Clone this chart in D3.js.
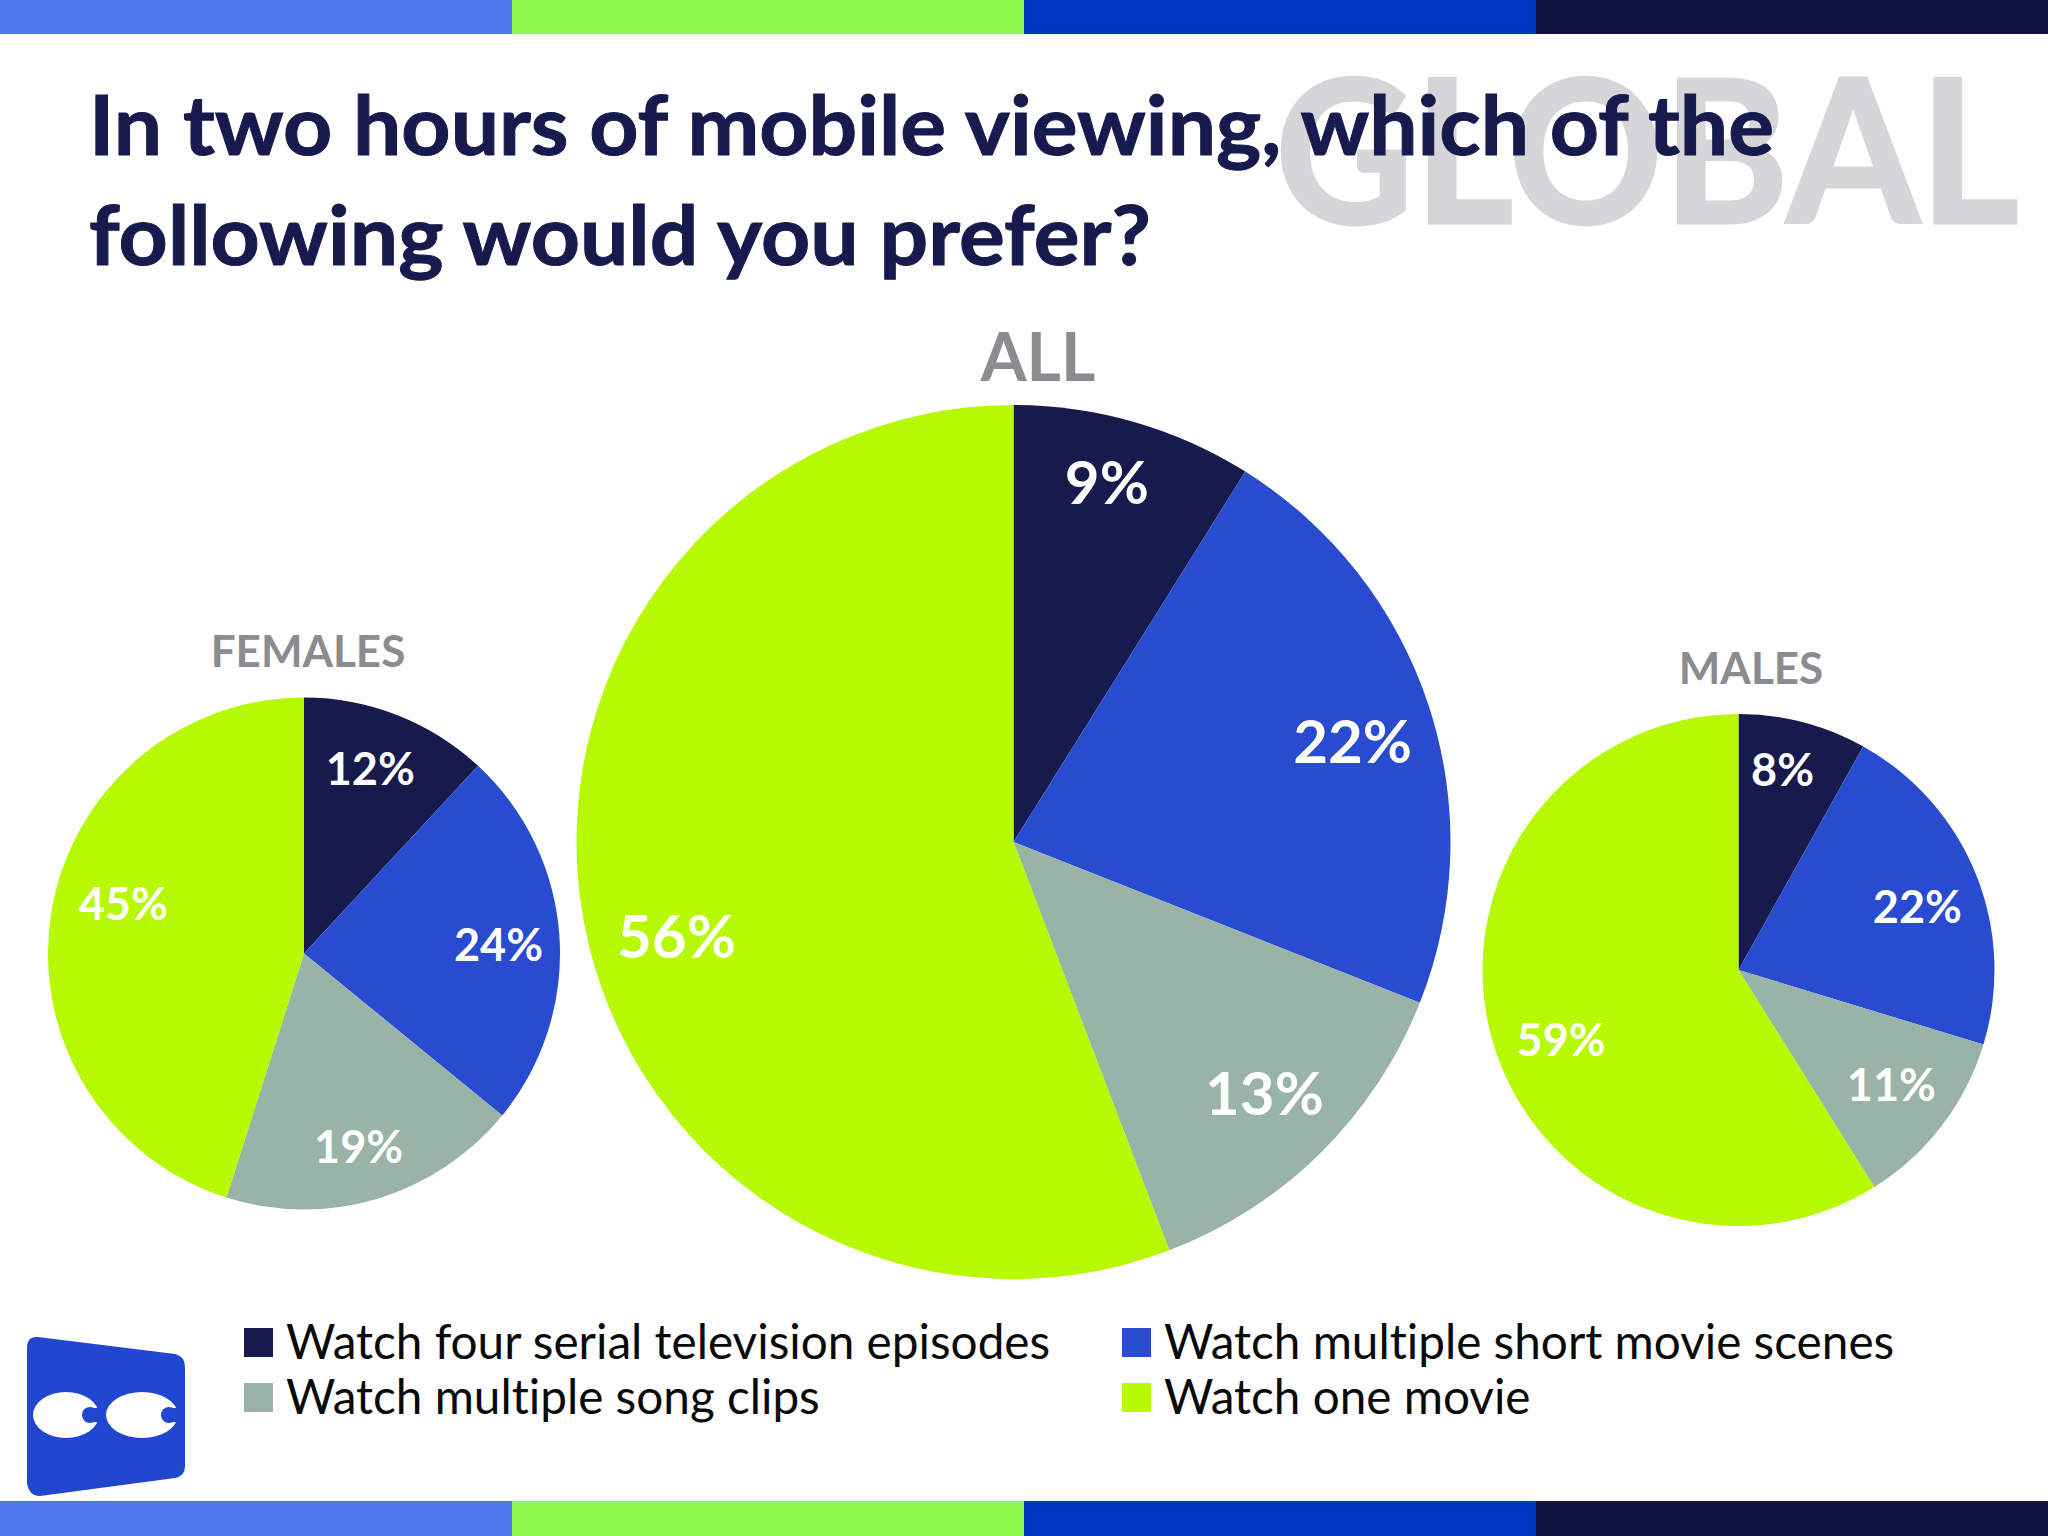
<!DOCTYPE html>
<html>
<head>
<meta charset="utf-8">
<style>
  html, body { margin: 0; padding: 0; background: #fff; }
  svg { display: block; }
  text { font-family: Lato, "Noto Sans", sans-serif; font-variant-ligatures: none; }
</style>
<script src="https://cdn.jsdelivr.net/npm/d3@7/dist/d3.min.js"></script>
</head>
<body>
<svg id="chart" width="2048" height="1536"></svg>
<script>
const categories = [
  "Watch four serial television episodes",
  "Watch multiple short movie scenes",
  "Watch multiple song clips",
  "Watch one movie"
];
// slice sizes, the labels round them
const allValues = [8.9, 22.1, 13.2, 55.8];
const femaleValues = [11.9, 24, 19, 45.1];
const maleValues = [8.1, 21.6, 11.4, 58.9];
const titleLines = [
  "In two hours of mobile viewing, which of the",
  "following would you prefer?"
];
const colors = ["#161a4c", "#284bd0", "#99b3a6", "#b6f900"];
const barColors = ["#4f78ee", "#8bf94d", "#0037c0", "#10123f"];

const svg = d3.select("#chart");
const navy = "#161a4c";
const grey = "#8b8b90";
const pct = d3.format(".0f");

// top and bottom strips
const barX = d3.scaleBand().domain(d3.range(4)).range([0, 2048]);
[[0, 34], [1501, 35]].forEach(([y, h]) => {
  svg.append("g").selectAll("rect").data(barColors).join("rect")
    .attr("x", (d, i) => barX(i))
    .attr("y", y)
    .attr("width", barX.bandwidth())
    .attr("height", h)
    .attr("fill", d => d);
});

// watermark goes under the title
svg.append("text")
  .attr("x", 1275).attr("y", 223)
  .attr("textLength", 744).attr("lengthAdjust", "spacingAndGlyphs")
  .attr("font-size", 200).attr("font-weight", 700)
  .attr("fill", "#d6d6d9")
  .attr("stroke", "#d6d6d9").attr("stroke-width", 3)
  .text("GLOBAL");

const titleWidths = [1685, 1062];
svg.append("g").selectAll("text").data(titleLines).join("text")
  .attr("x", 89)
  .attr("y", (d, i) => 155 + i * 110)
  .attr("textLength", (d, i) => titleWidths[i]).attr("lengthAdjust", "spacingAndGlyphs")
  .attr("font-size", 82).attr("font-weight", 700)
  .attr("fill", navy)
  .attr("stroke", navy).attr("stroke-width", 1)
  .text(d => d);

// one pie per group, labels nudged by hand off the centroid like the original slide
function drawPie(values, cx, cy, radius, labelRadius, fontSize, nudges, name, nameSize, nameX, nameY) {
  const g = svg.append("g").attr("transform", `translate(${cx},${cy})`);
  const pie = d3.pie().sort(null).value(d => d);
  const arc = d3.arc().innerRadius(0).outerRadius(radius);
  const labelArc = d3.arc().innerRadius(labelRadius).outerRadius(labelRadius);
  const arcs = pie(values);

  g.selectAll("path").data(arcs).join("path")
    .attr("d", arc)
    .attr("fill", (d, i) => colors[i]);

  g.selectAll("text").data(arcs).join("text")
    .attr("transform", (d, i) => {
      const c = labelArc.centroid(d);
      return `translate(${c[0] + nudges[i][0]},${c[1] + nudges[i][1]})`;
    })
    .attr("dy", "0.35em")
    .attr("text-anchor", "middle")
    .attr("font-size", fontSize).attr("font-weight", 700)
    .attr("fill", "#fff")
    .text(d => pct(d.data) + "%");

  svg.append("text")
    .attr("x", nameX).attr("y", nameY)
    .attr("text-anchor", "middle")
    .attr("font-size", nameSize).attr("font-weight", 700)
    .attr("fill", grey)
    .text(name);
}

drawPie(allValues, 1013.5, 842, 437, 360, 60,
  [[-6, -13], [-3, 12], [-2, -4], [17, 30]], "ALL", 66, 1038, 381);
drawPie(femaleValues, 304, 953.5, 256, 195, 45,
  [[-5, -3], [0, 5], [-1, 7], [12, -19]], "FEMALES", 44, 308, 667);
drawPie(maleValues, 1738.5, 970, 256, 195, 45,
  [[-5, -11], [-2, 10], [-2, -3], [10, 16]], "MALES", 44, 1751, 684);

// legend, two by two
const legendX = d3.scaleOrdinal().domain([0, 1]).range([244, 1122]);
const legendY = d3.scaleOrdinal().domain([0, 1]).range([1328, 1383]);
const legend = svg.append("g").selectAll("g").data(categories).join("g")
  .attr("transform", (d, i) => `translate(${legendX(i % 2)},${legendY(Math.floor(i / 2))})`);
legend.append("rect")
  .attr("width", 29).attr("height", 29)
  .attr("fill", (d, i) => colors[i]);
legend.append("text")
  .attr("x", 42).attr("y", 31)
  .attr("font-size", 47.7)
  .attr("fill", "#0a0a0a")
  .text(d => d);

// logo
const logoBlue = "#2146cf";
const logo = svg.append("g");
logo.append("path")
  .attr("d", "M38 1337 L175 1354 Q185 1356 185 1368 L185 1466 Q185 1476 175 1478 L40 1496 Q30 1497 27 1484 L27 1346 Q28 1336 38 1337 Z")
  .attr("fill", logoBlue);
[[66, 33], [142, 36]].forEach(([x, rx]) => {
  logo.append("ellipse").attr("cx", x).attr("cy", 1415).attr("rx", rx).attr("ry", 23).attr("fill", "#fff");
  logo.append("circle").attr("cx", x + rx - 9).attr("cy", 1415).attr("r", 8).attr("fill", logoBlue);
  logo.append("path")
    .attr("d", `M${x + rx - 9} 1409 L${x + rx + 2} 1407 L${x + rx + 2} 1423 L${x + rx - 9} 1421 Z`)
    .attr("fill", logoBlue);
});
</script>
</body>
</html>
